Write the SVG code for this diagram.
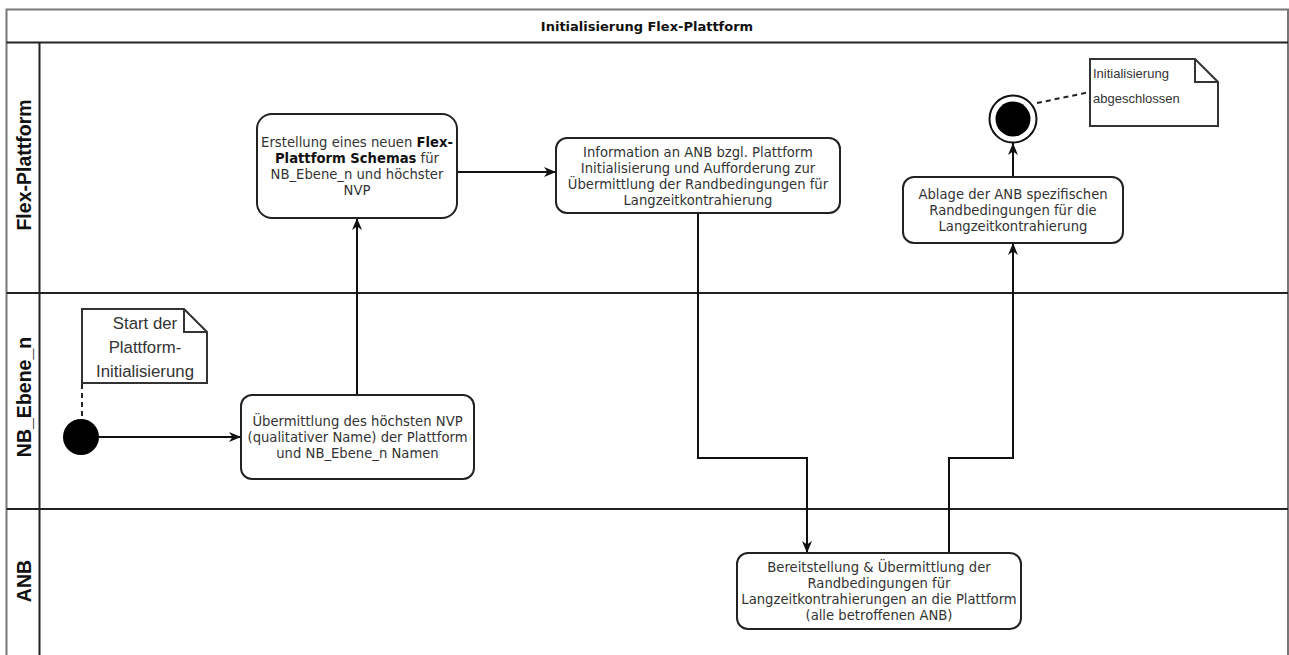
<svg xmlns="http://www.w3.org/2000/svg" width="1289" height="655" viewBox="0 0 1289 655">
<style>
.frame{fill:none;stroke:#777;stroke-width:2}
.lane{fill:none;stroke:#222;stroke-width:2}
.node{fill:#fff;stroke:#222;stroke-width:2}
.note{fill:#fff;stroke:#333;stroke-width:2}
.t{font-family:"DejaVu Sans",Verdana,sans-serif;font-size:13.2px;fill:#333;text-anchor:middle}
.b{font-weight:bold;fill:#111}
.title{font-family:"DejaVu Sans",Verdana,sans-serif;font-size:13px;font-weight:bold;fill:#111;text-anchor:middle}
.lbl{font-family:"Liberation Sans",Arial,sans-serif;font-size:19.5px;font-weight:bold;fill:#111;text-anchor:middle}
.nt{font-family:"Liberation Sans",Arial,sans-serif;fill:#333}
.edge{fill:none;stroke:#111;stroke-width:2}
.dash{fill:none;stroke:#222;stroke-width:2;stroke-dasharray:5 4}
</style>
<defs>
<marker id="arr" markerUnits="userSpaceOnUse" markerWidth="13" markerHeight="13" viewBox="0 0 13 13" refX="12" refY="6.5" orient="auto">
<path d="M0,1.5 L12,6.5 L0,11.5 L3.5,6.5 z" fill="#111"/>
</marker>
</defs>
<rect width="1289" height="655" fill="#fff"/>
<g id="pool">
<path class="frame" d="M6.5,655 V9.5 H1288 V655"/>
<line class="lane" x1="6.5" y1="42.5" x2="1288" y2="42.5"/>
<line class="lane" x1="39.5" y1="42.5" x2="39.5" y2="655"/>
<line class="lane" x1="6.5" y1="293" x2="1288" y2="293"/>
<line class="lane" x1="6.5" y1="509" x2="1288" y2="509"/>
<text class="title" x="647" y="30.5">Initialisierung Flex-Plattform</text>
<text class="lbl" transform="translate(30.5,165) rotate(-90)">Flex-Plattform</text>
<text class="lbl" transform="translate(30.5,397) rotate(-90)">NB_Ebene_n</text>
<text class="lbl" transform="translate(30.5,581) rotate(-90)">ANB</text>
</g>
<g id="connectors">
<line class="edge" x1="99" y1="437" x2="241" y2="437" marker-end="url(#arr)"/>
<line class="edge" x1="357" y1="395" x2="357" y2="218" marker-end="url(#arr)"/>
<line class="edge" x1="457" y1="172" x2="556" y2="172" marker-end="url(#arr)"/>
<polyline class="edge" points="698,213 698,458 807,458 807,553" marker-end="url(#arr)"/>
<polyline class="edge" points="949,553 949,458 1013,458 1013,243" marker-end="url(#arr)"/>
<line class="edge" x1="1013" y1="177" x2="1013" y2="143" marker-end="url(#arr)"/>
<line class="dash" x1="82" y1="384" x2="82" y2="419"/>
<line class="dash" x1="1037" y1="103" x2="1090" y2="92"/>
</g>
<g id="start">
<circle cx="81" cy="437" r="18" fill="#000"/>
</g>
<g id="note-start">
<path class="note" d="M82,309 H184 L207,332 V383 H82 Z M184,309 V332 H207"/>
<text class="nt" font-size="16.8" text-anchor="middle" x="145" y="329">Start der</text>
<text class="nt" font-size="16.8" text-anchor="middle" x="145" y="353">Plattform-</text>
<text class="nt" font-size="16.8" text-anchor="middle" x="145" y="377">Initialisierung</text>
</g>
<g id="uebermittlung">
<rect class="node" x="241" y="395" width="233" height="84" rx="11"/>
<text class="t" x="357.5" y="425.5">Übermittlung des höchsten NVP</text>
<text class="t" x="357.5" y="441.5">(qualitativer Name) der Plattform</text>
<text class="t" x="357.5" y="457.5">und NB_Ebene_n Namen</text>
</g>
<g id="erstellung">
<rect class="node" x="257" y="114" width="200" height="104" rx="15"/>
<text class="t" x="357" y="146.5">Erstellung eines neuen <tspan class="b">Flex-</tspan></text>
<text class="t" x="357" y="162.5"><tspan class="b">Plattform Schemas</tspan> für</text>
<text class="t" x="357" y="178.5">NB_Ebene_n und höchster</text>
<text class="t" x="357" y="194.5">NVP</text>
</g>
<g id="information">
<rect class="node" x="556" y="138" width="284" height="75" rx="11"/>
<text class="t" x="698" y="156.5">Information an ANB bzgl. Plattform</text>
<text class="t" x="698" y="172.5">Initialisierung und Aufforderung zur</text>
<text class="t" x="698" y="188.5">Übermittlung der Randbedingungen für</text>
<text class="t" x="698" y="204.5">Langzeitkontrahierung</text>
</g>
<g id="bereitstellung">
<rect class="node" x="737" y="553" width="284" height="76" rx="11"/>
<text class="t" x="879" y="572">Bereitstellung &amp; Übermittlung der</text>
<text class="t" x="879" y="588">Randbedingungen für</text>
<text class="t" x="879" y="604">Langzeitkontrahierungen an die Plattform</text>
<text class="t" x="879" y="620">(alle betroffenen ANB)</text>
</g>
<g id="ablage">
<rect class="node" x="903" y="177" width="220" height="66" rx="11"/>
<text class="t" x="1013" y="198.5">Ablage der ANB spezifischen</text>
<text class="t" x="1013" y="214.5">Randbedingungen für die</text>
<text class="t" x="1013" y="230.5">Langzeitkontrahierung</text>
</g>
<g id="end">
<circle cx="1013" cy="119" r="23.5" fill="#fff" stroke="#111" stroke-width="2"/>
<circle cx="1013" cy="119" r="17.5" fill="#000"/>
</g>
<g id="note-end">
<path class="note" d="M1090,59 H1195 L1218,82 V126 H1090 Z M1195,59 V82 H1218"/>
<text class="nt" font-size="13" x="1093" y="78">Initialisierung</text>
<text class="nt" font-size="13" x="1093" y="103">abgeschlossen</text>
</g>
</svg>
